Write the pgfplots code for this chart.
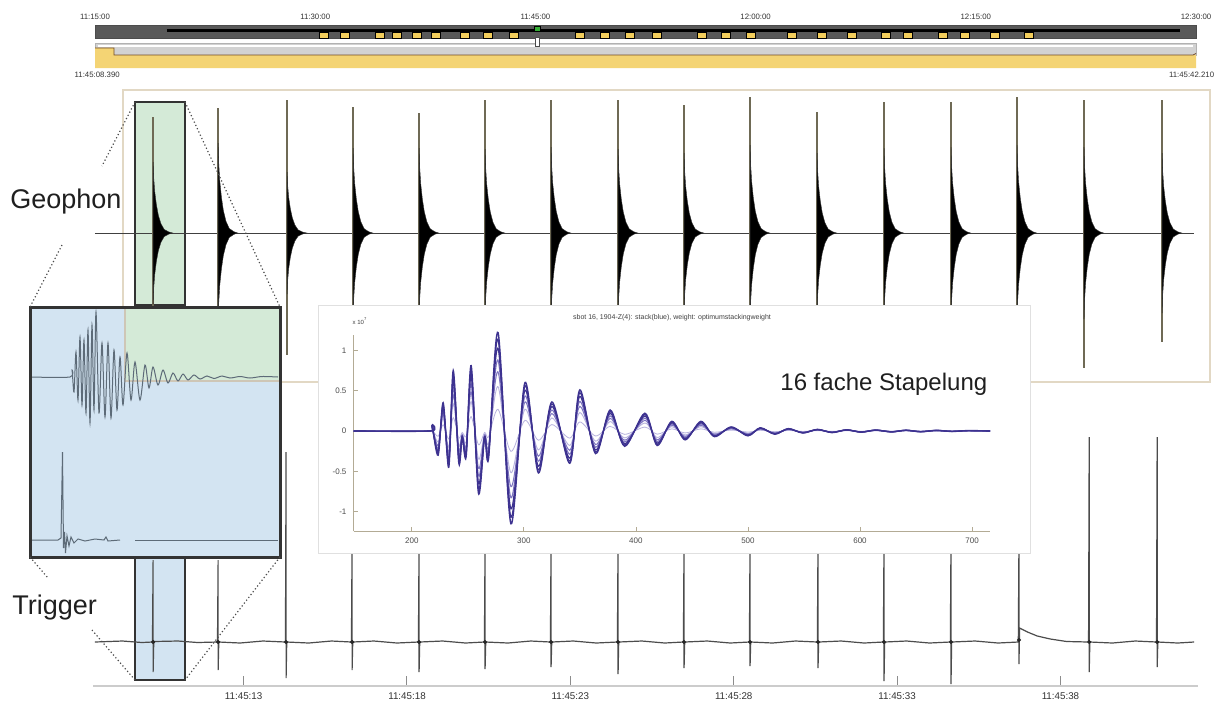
\documentclass[border=0pt]{standalone}
\usepackage{fontspec}
\setmainfont{Liberation Sans}
\usepackage{pgfplots}
\usepackage{pgfplotstable}
\pgfplotsset{compat=1.18}

\definecolor{frameC}{HTML}{E2D8C4}
\definecolor{hlgreen}{HTML}{D4EAD7}
\definecolor{hlblue}{HTML}{D3E4F2}
\definecolor{boxedge}{HTML}{333333}
\definecolor{oliveC}{HTML}{6F6A55}
\definecolor{tlyellow}{HTML}{F2CD5C}
\definecolor{tldark}{HTML}{595959}
\definecolor{stackdark}{HTML}{3D3290}
\definecolor{stackmid}{HTML}{7D74C0}
\definecolor{stackfaint}{HTML}{B8B3DE}
\definecolor{axtan}{HTML}{B3AB95}
\definecolor{zoomwave}{HTML}{5D6B78}

\newcommand{\fs}[1]{\fontsize{#1}{#1}\selectfont}

% decay envelope of one geophone event (time after onset in s, fraction of peak)
\pgfplotstableread{
dt f
0 0
0 1
0.015 0.8
0.05 0.58
0.1 0.4
0.16 0.25
0.24 0.13
0.34 0.05
0.48 0.015
0.6 0
0.48 -0.015
0.34 -0.05
0.24 -0.13
0.16 -0.25
0.1 -0.4
0.05 -0.58
0.015 -0.8
0 -1
}\envtab

% 16-fold stack (samples, x 10^7)
\pgfplotstableread{
x y
148 0
216 0
218 0.07
223.5 -0.30
228 0.35
233 -0.45
237 0.75
242 -0.40
245 -0.08
248.5 -0.32
253 0.81
259.5 -0.77
265 -0.08
268.5 -0.34
277 1.22
288.5 -1.15
301 0.60
313 -0.52
325 0.36
341 -0.40
350 0.51
364 -0.28
377 0.26
390 -0.19
408 0.22
419 -0.18
432 0.12
444 -0.11
458 0.12
470 -0.07
485 0.05
500 -0.06
511 0.04
524 -0.04
536 0.03
549 -0.025
562 0.02
575 -0.02
588 0.015
601 -0.015
614 0.012
628 -0.012
641 0.01
654 -0.01
668 0.008
682 -0.006
696 0.005
716 0
}\stacktab

\pgfplotsset{
  canvas/.style={scale only axis, width=612.5pt, height=350.5pt,
    xmin=0, xmax=1225, ymin=0, ymax=701, y dir=reverse, hide axis, clip=false,
    at={(306.25pt,-175.25pt)}, anchor=center},
}

\begin{document}
\begin{tikzpicture}
\useasboundingbox (0,0) rectangle (612.5pt,-350.5pt);
\fill[white] (0,0) rectangle (612.5pt,-350.5pt);

% back layer: frame and highlight boxes
\begin{axis}[canvas]
\addplot[draw=frameC, line width=0.9pt] coordinates {(123,90)(1210,90)(1210,382)(123,382)} -- cycle;
\addplot[fill=hlgreen, draw=boxedge, line width=1.1pt] coordinates {(135,102)(185,102)(185,305)(135,305)} -- cycle;
\addplot[fill=hlblue, draw=boxedge, line width=1.1pt] coordinates {(135,557)(185,557)(185,680)(135,680)} -- cycle;
\end{axis}

% top timeline (minutes after 11:15:00)
\begin{axis}[scale only axis, width=550.5pt, height=40pt, xmin=0, xmax=75, ymin=0, ymax=80,
  y dir=reverse, hide axis, clip=false, at={(322.75pt,-20pt)}, anchor=center]
\addplot[fill=tldark, draw=black!70, line width=0.3pt] coordinates {(0,25)(75,25)(75,38)(0,38)} -- cycle;
\addplot[black, line width=1.5pt] coordinates {(4.9,30.5)(73.9,30.5)};
\addplot[only marks, mark=square*, mark size=1.5pt, mark options={fill=tlyellow, draw=none, xscale=1.5}]
  coordinates {(15.6,35)(17.03,35)(19.41,35)(20.57,35)(21.93,35)(23.23,35)(25.20,35)(26.77,35)(28.54,35)
  (33.04,35)(34.74,35)(36.44,35)(38.28,35)(41.35,35)(42.98,35)(44.69,35)(47.48,35)(49.52,35)(51.57,35)
  (53.88,35)(55.38,35)(57.77,35)(59.26,35)(61.31,35)(63.62,35)};
\addplot[only marks, mark=square*, mark size=1.4pt, mark options={fill=green!60!black!80, draw=none}] coordinates {(30.14,29)};
\addplot[fill=gray!35, draw=gray!60, line width=0.3pt] coordinates {(0,43)(75,43)(75,55)(0,55)} -- cycle;
\addplot[white, line width=1pt] coordinates {(0.2,46.5)(74.8,46.5)};
\addplot[fill=tlyellow!85!white, draw=none] coordinates {(0,48)(1.3,48)(1.3,55)(75,55)(75,68)(0,68)} -- cycle;
\addplot[brown!60!black, line width=0.4pt] coordinates {(0,48)(1.3,48)(1.3,55)(74.8,55)(75,53.5)};
\addplot[fill=white, draw=black!70, line width=0.5pt] coordinates {(29.98,38)(30.3,38)(30.3,47)(29.98,47)} -- cycle;
\node[font=\fs{3.9}, text=black!80] at (axis cs:0,17) {11:15:00};
\node[font=\fs{3.9}, text=black!80] at (axis cs:15,17) {11:30:00};
\node[font=\fs{3.9}, text=black!80] at (axis cs:30,17) {11:45:00};
\node[font=\fs{3.9}, text=black!80] at (axis cs:45,17) {12:00:00};
\node[font=\fs{3.9}, text=black!80] at (axis cs:60,17) {12:15:00};
\node[font=\fs{3.9}, text=black!80] at (axis cs:75,17) {12:30:00};
\node[font=\fs{3.9}, text=black!80] at (axis cs:0.15,75) {11:45:08.390};
\node[font=\fs{3.9}, text=black!80] at (axis cs:74.7,75) {11:45:42.210};
\end{axis}

% geophone and trigger traces (seconds after 11:45:08.390)
\begin{axis}[scale only axis, width=552.5pt, height=300.5pt, xmin=0, xmax=33.82, ymin=85, ymax=686,
  y dir=reverse, hide axis, clip=false, at={(322.75pt,-192.75pt)}, anchor=center]
\addplot[black!75, line width=0.5pt] coordinates {(0.06,233)(33.7,233)};
\foreach \t/\lt/\lb/\a in {1.84/117/330/71, 3.83/108/350/90, 5.94/100/355/61, 7.96/107/352/85,
  9.98/113/356/85, 12.00/100/365/84, 14.02/100/360/86, 16.07/100/360/84, 18.09/105/360/80,
  20.11/97/360/88, 22.16/112/360/80, 24.21/102/360/85, 26.26/102/360/86, 28.28/97/375/88,
  30.33/100/368/86, 32.72/100/342/80} {
  \addplot[oliveC, line width=0.7pt] coordinates {(\t,\lt) (\t,\lb)};
  \addplot[fill=black, draw=black!80, line width=0.2pt] table[x expr=\thisrow{dt}+\t, y expr=233-\a*\thisrow{f}] {\envtab} -- cycle;
}
\addplot[black!70, line width=0.6pt] coordinates {
(0.06,642)(0.9,641)(1.5,642.5)(1.82,642)(1.84,560)(1.84,672)(1.86,641.5)(2.6,641)(3.2,642.5)
(3.81,642)(3.83,560)(3.83,670)(3.85,642)(4.5,643)(5.2,641)(5.89,642)(5.91,452)(5.91,678)(5.93,642)
(6.6,643)(7.3,641)(7.91,642)(7.93,540)(7.93,670)(7.95,642)(8.6,641)(9.3,643)(9.96,642)(9.98,540)
(9.98,672)(10.0,642)(10.7,641)(11.4,643)(11.98,642)(12.0,540)(12.0,669)(12.02,642)(12.7,643)(13.4,641)
(14.0,642)(14.02,540)(14.02,667)(14.04,642)(14.7,641)(15.4,643)(16.05,642)(16.07,540)(16.07,674)(16.09,642)
(16.8,641)(17.5,643)(18.07,642)(18.09,540)(18.09,668)(18.11,642)(18.8,641)(19.5,643)(20.09,642)(20.11,540)
(20.11,666)(20.13,642)(20.8,643)(21.5,641)(22.17,642)(22.19,540)(22.19,668)(22.21,642)(22.9,641)(23.6,643)
(24.19,642)(24.21,540)(24.21,681)(24.23,642)(24.9,641)(25.6,643)(26.24,642)(26.26,540)(26.26,684)(26.28,642)
(27.0,641)(27.7,643)(28.32,642)(28.34,540)(28.34,664)(28.36,628)(28.6,632)(28.9,636)(29.3,639)(29.8,641.5)
(30.47,642)(30.49,437)(30.49,672)(30.51,642)(31.2,643)(31.9,641)(32.55,642)(32.57,437)(32.57,667)(32.59,642)
(33.2,643)(33.7,642)};
\addplot[only marks, mark=*, mark size=0.8pt, black!85] coordinates {(1.84,642)(3.83,642)(5.91,642)(7.93,642)
(9.98,642)(12.0,642)(14.02,642)(16.07,642)(18.09,642)(20.11,642)(22.19,642)(24.21,642)(26.26,642)(28.34,640)(30.49,642)(32.57,642)};
\end{axis}

% time axis at the bottom
\begin{axis}[scale only axis, width=552.5pt, height=8pt, xmin=0, xmax=33.82, ymin=0, ymax=1,
  at={(46.5pt,-343pt)}, anchor=south west, axis x line*=bottom, axis y line=none,
  x axis line style={draw=black!20, line width=1pt, -},
  xtick={4.61,9.61,14.61,19.61,24.61,29.61},
  xticklabels={11:45:13,11:45:18,11:45:23,11:45:28,11:45:33,11:45:38},
  xtick style={draw=black!45, line width=0.5pt}, major tick length=5pt, tick align=inside,
  xticklabel style={font=\fs{4.9}, text=black!80}]
\addplot[draw=none] coordinates {(0,0)(33.82,1)};
\end{axis}

% front layer: zoom box, connectors, labels, inset background
\begin{axis}[canvas]
\addplot[fill=hlblue, draw=none] coordinates {(30,307)(280,307)(280,557)(30,557)} -- cycle;
\addplot[fill=hlgreen, draw=none] coordinates {(125,307)(280,307)(280,381)(125,381)} -- cycle;
\addplot[draw=frameC!80!gray, line width=0.6pt] coordinates {(125,307)(125,381)(280,381)};
\addplot[zoomwave, line width=0.5pt, smooth] coordinates {
(32,377)(70,377)(72,370)(74,392)(76,352)(78,400)(80,337)(82,405)(84,340)(86,413)(88,330)(90,423)(92,325)
(94,410)(96,312)(99,413)(102,343)(105,417)(108,343)(111,418)(114,350)(117,410)(120,357)(123,405)(127,353)
(131,400)(135,362)(140,400)(145,365)(149,388)(153,367)(158,385)(163,370)(168,383)(173,373)(178,381)(183,374)
(188,380)(194,375)(200,379)(207,376)(214,378.5)(222,376)(230,378)(240,376.5)(250,378)(262,376.5)(278,377)};
\addplot[zoomwave, line width=0.5pt] coordinates {
(32,540)(58,540)(61,538)(62.5,452)(63.5,548)(64.5,532)(65.5,553)(67,536)(69,546)(71,537)(74,543)(78,539)
(85,541)(95,539)(104,540)(106,537)(108,541)(120,540)};
\addplot[zoomwave, line width=0.5pt] coordinates {(135,540)(278,540)};
\addplot[draw=boxedge, line width=1.5pt] coordinates {(30,307)(280,307)(280,557)(30,557)} -- cycle;
\addplot[black!70, line width=0.6pt, dash pattern=on 0.6pt off 1.2pt] coordinates {(135,102)(102,166)};
\addplot[black!70, line width=0.6pt, dash pattern=on 0.6pt off 1.2pt] coordinates {(62,245)(30,307)};
\addplot[black!70, line width=0.6pt, dash pattern=on 0.6pt off 1.2pt] coordinates {(185,102)(280,307)};
\addplot[black!70, line width=0.6pt, dash pattern=on 0.6pt off 1.2pt] coordinates {(30,557)(48,578)};
\addplot[black!70, line width=0.6pt, dash pattern=on 0.6pt off 1.2pt] coordinates {(92,630)(135,680)};
\addplot[black!70, line width=0.6pt, dash pattern=on 0.6pt off 1.2pt] coordinates {(280,557)(185,680)};
\node[anchor=base west, inner sep=0pt, font=\fs{13.5}, text=black!88] at (axis cs:10,208) {Geophon};
\node[anchor=base west, inner sep=0pt, font=\fs{13.5}, text=black!88] at (axis cs:12,614) {Trigger};
\addplot[fill=white, draw=black!12, line width=0.5pt] coordinates {(318,305)(1030,305)(1030,553)(318,553)} -- cycle;
\node[font=\fs{3.5}, text=black!75] at (axis cs:672,318) {sbot 16, 1904-Z(4): stack(blue), weight: optimumstackingweight};
\node[font=\fs{3}, text=black!75] at (axis cs:360,321) {x 10\textsuperscript{7}};
\node[anchor=base west, inner sep=0pt, font=\fs{12}, text=black!88] at (axis cs:780,390) {16 fache Stapelung};
\end{axis}

% inset: stacked traces
\begin{axis}[scale only axis, width=318.25pt, height=98pt, xmin=148, xmax=716, ymin=-1.24, ymax=1.19,
  at={(176.75pt,-265.5pt)}, anchor=south west, axis lines*=left,
  axis line style={draw=axtan, line width=0.5pt, -},
  xtick={200,300,400,500,600,700}, ytick={-1,-0.5,0,0.5,1},
  tick style={draw=axtan, line width=0.4pt}, major tick length=2pt, tick align=inside,
  tick label style={font=\fs{4}, text=black!70}, /pgf/number format/assume math mode=true, clip=false]
\addplot[stackfaint, line width=0.4pt, smooth] table[x=x, y expr=0.22*\thisrow{y}] {\stacktab};
\addplot[stackfaint, line width=0.45pt, smooth] table[x=x, y expr=0.45*\thisrow{y}] {\stacktab};
\addplot[stackmid, line width=0.5pt, smooth] table[x=x, y expr=0.6*\thisrow{y}] {\stacktab};
\addplot[stackmid, line width=0.55pt, smooth] table[x=x, y expr=0.72*\thisrow{y}] {\stacktab};
\addplot[stackdark, line width=0.6pt, smooth] table[x=x, y expr=0.84*\thisrow{y}] {\stacktab};
\addplot[stackdark, line width=0.6pt, smooth] table[x=x, y expr=0.93*\thisrow{y}] {\stacktab};
\addplot[stackdark, line width=0.7pt, smooth] table[x=x, y=y] {\stacktab};
\end{axis}
\end{tikzpicture}
\end{document}
